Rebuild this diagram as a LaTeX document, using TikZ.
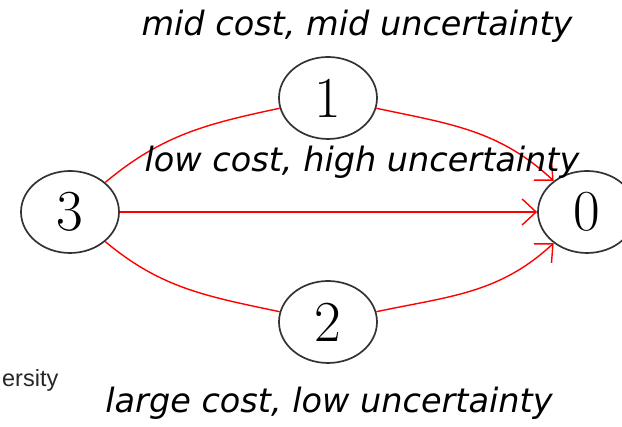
\documentclass[tikz,border=0pt]{standalone}
\usepackage{fontspec}
\usetikzlibrary{shapes.geometric,arrows.meta}
\newfontfamily\labelfont{DejaVu Sans}
\newfontfamily\unifont{Liberation Sans}
\begin{document}
\begin{tikzpicture}[x=1pt,y=1pt,
  state/.style={ellipse,draw=black!80,line width=1.7pt,minimum width=98pt,minimum height=82pt,inner sep=0pt,font=\fontsize{58}{60}\selectfont},
  plainlink/.style={red,line width=1.4pt},
  link/.style={plainlink,-{Straight Barb[length=14pt,width=26pt,line width=1.4pt]}},
  caption/.style={anchor=base,font=\labelfont\itshape\fontsize{33.5}{36}\selectfont}]
\useasboundingbox (0,0) rectangle (622,427);
\node[state] (n3) at (70,215) {3};
\node[state] (n1) at (328,329) {1};
\node[state] (n2) at (328,105) {2};
\node[state] (n0) at (587,215) {0};
\draw[plainlink] (n3) to[out=40,in=192] (n1);
\draw[link] (n1) to[out=-12,in=137] (n0);
\draw[link] (n3) -- (n0);
\draw[plainlink] (n3) to[out=-40,in=168] (n2);
\draw[link] (n2) to[out=12,in=223] (n0);
\node[caption] (t1) at (357,391) {mid cost, mid uncertainty};
\node[caption] (t2) at (362,255) {low cost, high uncertainty};
\node[caption] (t3) at (329,14) {large cost, low uncertainty};
\node[anchor=base east,inner sep=0pt,font=\unifont\fontsize{23.5}{26}\selectfont,text=black!85] (uni) at (58.5,40) {ersity};
\end{tikzpicture}
\end{document}
